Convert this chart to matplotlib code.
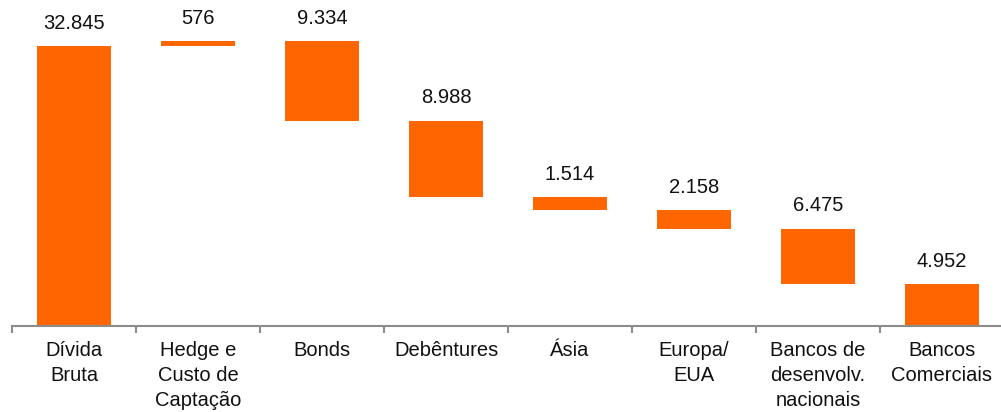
import matplotlib
matplotlib.use("Agg")
from matplotlib import pyplot as plt
import numpy as np

plt.rcParams["font.family"] = ["Liberation Sans", "DejaVu Sans"]

# dados da cascata (R$ milhões)
categorias = ["Dívida\nBruta", "Hedge e\nCusto de\nCaptação", "Bonds", "Debêntures",
              "Ásia", "Europa/\nEUA", "Bancos de\ndesenvolv.\nnacionais", "Bancos\nComerciais"]
valores = [32845, 576, -9334, -8988, -1514, -2158, -6475, 4952]
rotulos = ["32.845", "576", "9.334", "8.988", "1.514", "2.158", "6.475", "4.952"]
total = [True, False, False, False, False, False, False, True]

laranja = "#FF6600"

bases = []
alturas = []
nivel = 0
for v, t in zip(valores, total):
    if t:
        bases.append(0)
        alturas.append(v)
        nivel = v
    else:
        if v >= 0:
            bases.append(nivel)
        else:
            bases.append(nivel + v)
        alturas.append(abs(v))
        nivel += v

fig = plt.figure(figsize=(10.01, 4.12), dpi=100)
ax = fig.add_axes([12 / 1001, 1 - 326 / 412, 992 / 1001, 326 / 412])

x = np.arange(len(categorias))
ax.bar(x, alturas, bottom=bases, width=0.59, color=laranja)

for xi, b, h, r in zip(x, bases, alturas, rotulos):
    ax.annotate(r, (xi, b + h), xytext=(0, 9.5), textcoords="offset points",
                ha="center", va="bottom", fontsize=14.5, color="#111111")

ax.set_xlim(-0.5, 7.5)
ax.set_ylim(0, 38240)
ax.set_yticks([])
for s in ["top", "right", "left"]:
    ax.spines[s].set_visible(False)
ax.spines["bottom"].set_color("#8c8c8c")
ax.spines["bottom"].set_linewidth(1.5)

ax.set_xticks(x)
ax.set_xticklabels(categorias, fontsize=14.5, color="#111111", linespacing=1.42)
ax.tick_params(axis="x", which="major", length=0, pad=10.5)
ax.set_xticks(np.arange(-0.5, 8, 1), minor=True)
ax.tick_params(axis="x", which="minor", length=5, width=1.5, color="#8c8c8c", direction="out")

fig.savefig("out.png", dpi=100)
